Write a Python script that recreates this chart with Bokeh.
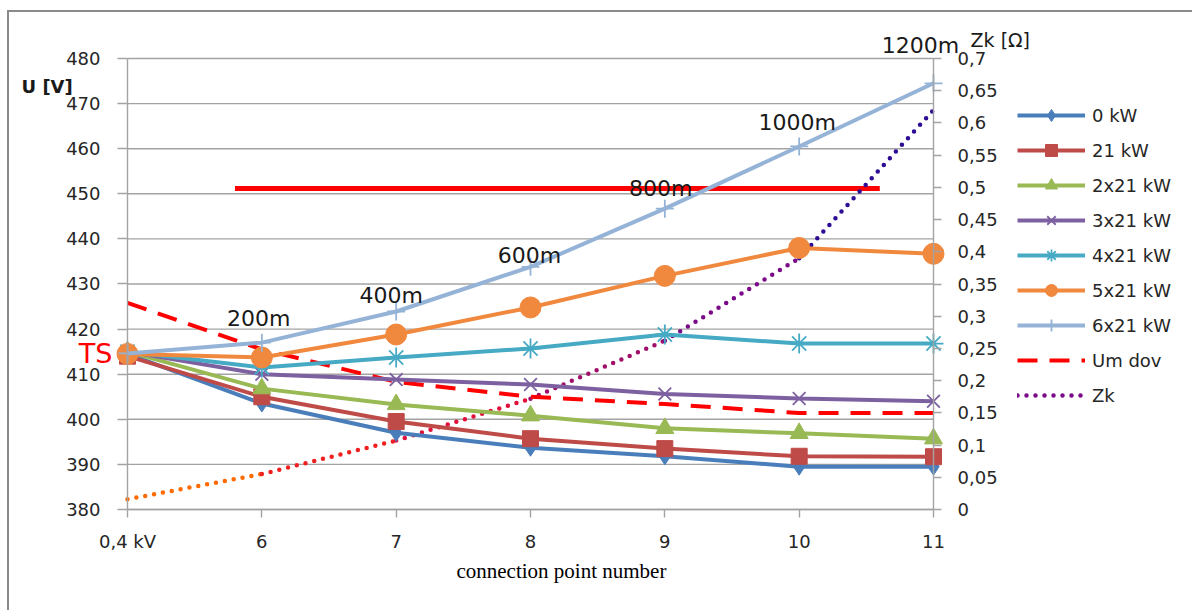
from bokeh.plotting import figure
from bokeh.models import (Range1d, LinearAxis, FixedTicker, Legend, LegendItem, Label,
                          LabelSet, ColumnDataSource, CustomJSTickFormatter)
from bokeh.core.properties import value
from bokeh.embed import file_html
from bokeh.resources import INLINE

FONT = "DejaVu Sans"

# ---------------- data ----------------
categories = ["0,4 kV", "6", "7", "8", "9", "10", "11"]
u_0kw = [414.5, 403.5, 397.0, 393.7, 391.8, 389.5, 389.5]
u_21kw = [414.0, 405.0, 399.5, 395.7, 393.5, 391.8, 391.7]
u_2x21kw = [415.0, 406.8, 403.3, 400.8, 398.0, 396.9, 395.7]
u_3x21kw = [415.0, 410.0, 408.8, 407.7, 405.6, 404.6, 404.0]
u_4x21kw = [415.0, 411.5, 413.7, 415.7, 418.8, 416.8, 416.8]
u_5x21kw = [414.5, 413.7, 418.8, 424.8, 431.8, 438.0, 436.7]
u_6x21kw = [414.6, 417.0, 423.9, 433.8, 446.7, 460.5, 474.5]
um_dov = [425.8, 415.5, 408.3, 405.0, 403.4, 401.4, 401.4]
zk = [0.016, 0.055, 0.107, 0.172, 0.262, 0.390, 0.620]
dist_labels = ["200m", "400m", "600m", "800m", "1000m", "1200m"]
u_ticks = [380, 390, 400, 410, 420, 430, 440, 450, 460, 470, 480]
zk_ticks = [0, 0.05, 0.1, 0.15, 0.2, 0.25, 0.3, 0.35, 0.4, 0.45, 0.5, 0.55, 0.6, 0.65, 0.7]
u_limit = 451.2
limit_x = [0.8, 5.6]

x = list(range(len(categories)))

# ---------------- figure ----------------
# the frame covers the whole canvas; axes are pinned at fixed locations
p = figure(width=1185, height=600, output_backend="svg", toolbar_location=None,
           x_range=Range1d(-0.8784, 7.9429), y_range=Range1d(357.16, 490.20),
           min_border_left=0, min_border_right=0, min_border_top=0, min_border_bottom=0)
p.styles = {"margin-left": "7px", "margin-top": "10px",
            "border-left": "2px solid #8a8a8a", "border-top": "2px solid #8a8a8a"}
p.outline_line_color = None
p.background_fill_color = "white"
p.border_fill_color = "white"
p.xgrid.visible = False
p.ygrid.visible = False

p.extra_y_ranges = {"zk": Range1d(-0.15987, 0.77140)}

GRID = "#a3a3a3"
TXT = "#262626"

# horizontal grid lines (plot area only)
p.segment(x0=[0] * len(u_ticks), x1=[6] * len(u_ticks), y0=u_ticks, y1=u_ticks,
          line_color=GRID, line_width=1.4)

# left axis
yl = p.yaxis[0]
yl.fixed_location = 0
yl.bounds = (380, 480)
yl.ticker = FixedTicker(ticks=u_ticks)
yl.axis_line_color = GRID
yl.axis_line_width = 1.4
yl.major_tick_line_color = GRID
yl.major_tick_line_width = 1.4
yl.major_tick_in = 0
yl.major_tick_out = 10
yl.minor_tick_line_color = None
yl.major_label_standoff = 17
yl.major_label_text_font = FONT
yl.major_label_text_font_size = "18px"
yl.major_label_text_color = TXT

# x axis
xa = p.xaxis[0]
xa.fixed_location = 380
xa.bounds = (0, 6)
xa.ticker = FixedTicker(ticks=x)
xa.major_label_overrides = {i: c for i, c in enumerate(categories)}
xa.axis_line_color = GRID
xa.axis_line_width = 1.4
xa.major_tick_line_color = GRID
xa.major_tick_line_width = 1.4
xa.major_tick_in = 0
xa.major_tick_out = 8
xa.minor_tick_line_color = None
xa.major_label_standoff = 14
xa.major_label_text_font = FONT
xa.major_label_text_font_size = "18px"
xa.major_label_text_color = TXT

# right axis
yr = LinearAxis(y_range_name="zk", ticker=FixedTicker(ticks=zk_ticks))
yr.fixed_location = 6
yr.bounds = (0, 0.7)
yr.formatter = CustomJSTickFormatter(
    code="return tick.toFixed(2).replace(/0+$/, '').replace(/\\.$/, '').replace('.', ',');")
yr.axis_line_color = GRID
yr.axis_line_width = 1.4
yr.major_tick_line_color = GRID
yr.major_tick_line_width = 1.4
yr.major_tick_in = 0
yr.major_tick_out = 8
yr.minor_tick_line_color = None
yr.major_label_standoff = 16
yr.major_label_text_font = FONT
yr.major_label_text_font_size = "18px"
yr.major_label_text_color = TXT
p.add_layout(yr, "right")

# ---------------- series ----------------
LW = 4
items = []

# limit line
p.line(limit_x, [u_limit, u_limit], line_color="#ff0000", line_width=5)

# Zk dotted with colour shading
zk_colors = ["#ff6a00", "#f02020", "#e0103a", "#a0106a", "#7a0a88", "#2e0c95"]
zk_renderers = []
for i in range(len(x) - 1):
    r = p.line(x[i:i + 2], zk[i:i + 2], y_range_name="zk", line_color=zk_colors[i],
               line_width=4.5, line_dash="0 9", line_cap="round")
    zk_renderers.append(r)

# Um dov
r_um = p.line(x, um_dov, line_color="#ff0000", line_width=4, line_dash="20 12")

series = [
    ("0 kW", u_0kw, "#4a7ebb", "diamond", 17, None),
    ("21 kW", u_21kw, "#be4b48", "square", 16, None),
    ("2x21 kW", u_2x21kw, "#98b954", "triangle", 18, None),
    ("3x21 kW", u_3x21kw, "#7d60a0", "x", 18, 1.8),
    ("4x21 kW", u_4x21kw, "#46aac5", "asterisk", 20, 1.8),
    ("5x21 kW", u_5x21kw, "#f0883e", "circle", 21, None),
    ("6x21 kW", u_6x21kw, "#95b3d7", "cross", 18, 1.8),
]
for name, ys, col, mk, sz, mlw in series:
    rl = p.line(x, ys, line_color=col, line_width=LW)
    if mlw is None:
        rs = p.scatter(x, ys, marker=mk, size=sz, fill_color=col, line_color=col, line_width=1)
    else:
        rs = p.scatter(x, ys, marker=mk, size=sz, line_color=col, line_width=mlw)
    items.append(LegendItem(label=name, renderers=[rl, rs]))

items.append(LegendItem(label="Um dov", renderers=[r_um]))
items.append(LegendItem(label="Zk", renderers=[zk_renderers[4]]))

legend = Legend(items=items, location=(1008, 202))
legend.label_text_font = FONT
legend.label_text_font_size = "18px"
legend.label_text_color = TXT
legend.glyph_width = 68
legend.glyph_height = 30
legend.label_height = 30
legend.spacing = 5
legend.label_standoff = 7
legend.margin = 0
legend.padding = 0
legend.border_line_color = None
legend.background_fill_alpha = 0
p.add_layout(legend)

# ---------------- labels ----------------
src = ColumnDataSource(dict(x=x[1:], y=u_6x21kw[1:], t=dist_labels,
                            dx=[-3, -5, -1, -4, -2, -13], dy=[24, 16, 11, 20, 24, 38]))
p.add_layout(LabelSet(x="x", y="y", text="t", source=src, x_offset="dx", y_offset="dy",
                      text_align="center", text_baseline="middle",
                      text_font=value(FONT), text_font_size="22px", text_color="#1a1a1a"))

p.add_layout(Label(x=0, y=u_6x21kw[0], text="TS", x_offset=-15, text_align="right",
                   text_baseline="middle", text_font=FONT, text_font_size="27px",
                   text_color="#ff0000"))
p.add_layout(Label(x=-0.789, y=473.8, text="U [V]", text_align="left", text_baseline="middle",
                   text_font=FONT, text_font_size="18px", text_font_style="bold",
                   text_color="#1a1a1a"))
p.add_layout(Label(x=6.276, y=484.0, text="Zk [Ω]", text_align="left", text_baseline="middle",
                   text_font=FONT, text_font_size="19px", text_color="#1a1a1a"))
p.add_layout(Label(x=3.23, y=366.3, text="connection point number", text_align="center",
                   text_baseline="middle", text_font="Liberation Serif",
                   text_font_size="21px", text_color="#000000"))

open("out.html", "w").write(file_html(p, INLINE))
